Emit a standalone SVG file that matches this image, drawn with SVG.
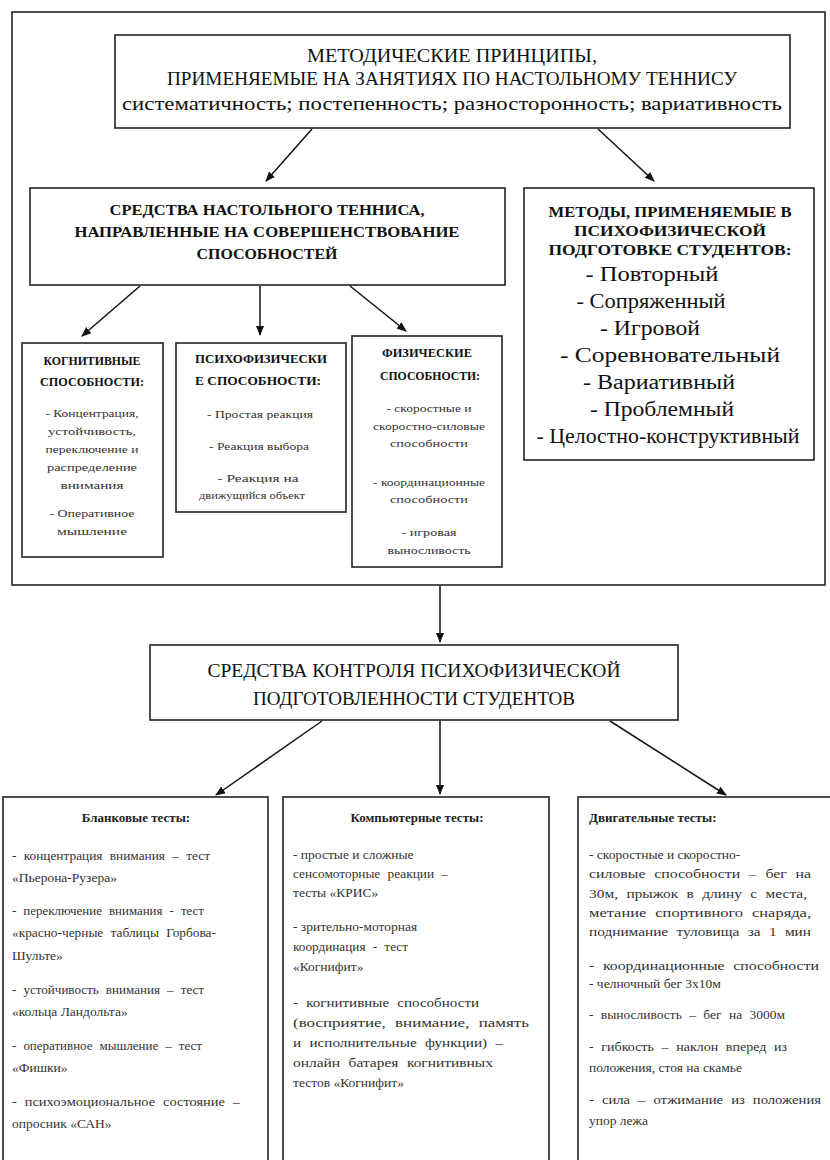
<svg xmlns="http://www.w3.org/2000/svg" width="830" height="1160" viewBox="0 0 830 1160">
<defs>
<marker id="ah" markerWidth="10" markerHeight="10" refX="9" refY="5" orient="auto" markerUnits="userSpaceOnUse">
<path d="M0,1 L10,5 L0,9 Z" fill="#111"/>
</marker>
<style>
.box{fill:#fff;stroke:#222;stroke-width:1.6}
text{font-family:'Liberation Serif','DejaVu Serif','Times New Roman',serif;fill:#111}
.c{text-anchor:middle}
.h1{font-size:18px}
.h2{font-size:15px;font-weight:bold}
.m{font-size:20px}
.st{font-size:12px;font-weight:bold}
.s{font-size:11px;fill:#333}
.b{font-size:13.5px;fill:#333}
.w{word-spacing:4px}
.bt{font-size:13px;font-weight:bold;fill:#222}
.con{stroke:#111;stroke-width:1.5;fill:none;marker-end:url(#ah)}
</style>
</defs>
<rect width="830" height="1160" fill="#fff"/>

<g id="frame"><rect class="box" x="12" y="12" width="813" height="573"/></g>

<g id="principles">
<rect class="box" x="115" y="35" width="675" height="93"/>
<text class="c h1" x="452" y="62" textLength="290" lengthAdjust="spacingAndGlyphs">МЕТОДИЧЕСКИЕ ПРИНЦИПЫ,</text>
<text class="c h1" x="452" y="85" textLength="570" lengthAdjust="spacingAndGlyphs">ПРИМЕНЯЕМЫЕ НА ЗАНЯТИЯХ ПО НАСТОЛЬНОМУ ТЕННИСУ</text>
<text class="c h1" x="452" y="110" textLength="660" lengthAdjust="spacingAndGlyphs" style="font-size:19px">систематичность; постепенность; разносторонность; вариативность</text>
</g>

<g id="means">
<rect class="box" x="30" y="188" width="475" height="97"/>
<text class="c h2" x="267" y="215" textLength="315" lengthAdjust="spacingAndGlyphs">СРЕДСТВА НАСТОЛЬНОГО ТЕННИСА,</text>
<text class="c h2" x="267" y="237" textLength="385" lengthAdjust="spacingAndGlyphs">НАПРАВЛЕННЫЕ НА СОВЕРШЕНСТВОВАНИЕ</text>
<text class="c h2" x="267" y="259" textLength="141" lengthAdjust="spacingAndGlyphs">СПОСОБНОСТЕЙ</text>
</g>

<g id="methods">
<rect class="box" x="524" y="188" width="290" height="272"/>
<text class="c h2" x="670" y="217" textLength="243" lengthAdjust="spacingAndGlyphs">МЕТОДЫ, ПРИМЕНЯЕМЫЕ В</text>
<text class="c h2" x="670" y="236" textLength="192" lengthAdjust="spacingAndGlyphs">ПСИХОФИЗИЧЕСКОЙ</text>
<text class="c h2" x="670" y="255" textLength="243" lengthAdjust="spacingAndGlyphs">ПОДГОТОВКЕ СТУДЕНТОВ:</text>
<text class="c m" x="652" y="281" textLength="133" lengthAdjust="spacingAndGlyphs">- Повторный</text>
<text class="c m" x="651" y="308" textLength="149" lengthAdjust="spacingAndGlyphs">- Сопряженный</text>
<text class="c m" x="650" y="335" textLength="100" lengthAdjust="spacingAndGlyphs">- Игровой</text>
<text class="c m" x="670" y="362" textLength="220" lengthAdjust="spacingAndGlyphs">- Соревновательный</text>
<text class="c m" x="659" y="389" textLength="152" lengthAdjust="spacingAndGlyphs">- Вариативный</text>
<text class="c m" x="662" y="416" textLength="144" lengthAdjust="spacingAndGlyphs">- Проблемный</text>
<text class="c m" x="668" y="443" textLength="263" lengthAdjust="spacingAndGlyphs">- Целостно-конструктивный</text>
</g>

<g id="cognitive">
<rect class="box" x="22" y="343" width="141" height="214"/>
<text class="c st" x="92" y="365" textLength="97" lengthAdjust="spacingAndGlyphs">КОГНИТИВНЫЕ</text>
<text class="c st" x="92" y="386" textLength="104" lengthAdjust="spacingAndGlyphs">СПОСОБНОСТИ:</text>
<text class="c s" x="92" y="417" textLength="93" lengthAdjust="spacingAndGlyphs">- Концентрация,</text>
<text class="c s" x="92" y="435" textLength="88" lengthAdjust="spacingAndGlyphs">устойчивость,</text>
<text class="c s" x="92" y="453" textLength="93" lengthAdjust="spacingAndGlyphs">переключение и</text>
<text class="c s" x="92" y="471" textLength="90" lengthAdjust="spacingAndGlyphs">распределение</text>
<text class="c s" x="92" y="489" textLength="63" lengthAdjust="spacingAndGlyphs">внимания</text>
<text class="c s" x="92" y="517" textLength="85" lengthAdjust="spacingAndGlyphs">- Оперативное</text>
<text class="c s" x="92" y="535" textLength="70" lengthAdjust="spacingAndGlyphs">мышление</text>
</g>

<g id="psychophysical">
<rect class="box" x="176" y="343" width="170" height="169"/>
<text class="c st" x="261" y="363" textLength="132" lengthAdjust="spacingAndGlyphs">ПСИХОФИЗИЧЕСКИ</text>
<text class="c st" x="258" y="385" textLength="126" lengthAdjust="spacingAndGlyphs">Е СПОСОБНОСТИ:</text>
<text class="c s" x="260" y="418" textLength="106" lengthAdjust="spacingAndGlyphs">- Простая реакция</text>
<text class="c s" x="259" y="450" textLength="100" lengthAdjust="spacingAndGlyphs">- Реакция выбора</text>
<text class="c s" x="258" y="482" textLength="81" lengthAdjust="spacingAndGlyphs">- Реакция на</text>
<text class="c s" x="252" y="499" textLength="106" lengthAdjust="spacingAndGlyphs">движущийся объект</text>
</g>

<g id="physical">
<rect class="box" x="352" y="336" width="150" height="231"/>
<text class="c st" x="427" y="357" textLength="90" lengthAdjust="spacingAndGlyphs">ФИЗИЧЕСКИЕ</text>
<text class="c st" x="430" y="380" textLength="100" lengthAdjust="spacingAndGlyphs">СПОСОБНОСТИ:</text>
<text class="c s" x="429" y="412" textLength="85" lengthAdjust="spacingAndGlyphs">- скоростные и</text>
<text class="c s" x="429" y="430" textLength="112" lengthAdjust="spacingAndGlyphs">скоростно-силовые</text>
<text class="c s" x="429" y="447" textLength="78" lengthAdjust="spacingAndGlyphs">способности</text>
<text class="c s" x="429" y="486" textLength="112" lengthAdjust="spacingAndGlyphs">- координационные</text>
<text class="c s" x="429" y="503" textLength="78" lengthAdjust="spacingAndGlyphs">способности</text>
<text class="c s" x="429" y="536" textLength="55" lengthAdjust="spacingAndGlyphs">- игровая</text>
<text class="c s" x="429" y="554" textLength="83" lengthAdjust="spacingAndGlyphs">выносливость</text>
</g>

<g id="control">
<rect class="box" x="150" y="645" width="528" height="75"/>
<text class="c h1" x="414" y="677" textLength="413" lengthAdjust="spacingAndGlyphs">СРЕДСТВА КОНТРОЛЯ ПСИХОФИЗИЧЕСКОЙ</text>
<text class="c h1" x="414" y="705" textLength="322" lengthAdjust="spacingAndGlyphs">ПОДГОТОВЛЕННОСТИ СТУДЕНТОВ</text>
</g>

<g id="blank-tests">
<rect class="box" x="3" y="797" width="265" height="380"/>
<text class="c bt" x="136" y="822">Бланковые тесты:</text>
<text class="b w" x="12" y="860" textLength="198" lengthAdjust="spacingAndGlyphs">- концентрация  внимания – тест</text>
<text class="b" x="12" y="882">«Пьерона-Рузера»</text>
<text class="b w" x="12" y="915" textLength="192" lengthAdjust="spacingAndGlyphs">- переключение внимания - тест</text>
<text class="b w" x="12" y="937" textLength="204" lengthAdjust="spacingAndGlyphs">«красно-черные таблицы Горбова-</text>
<text class="b" x="12" y="960">Шульте»</text>
<text class="b w" x="12" y="994" textLength="192" lengthAdjust="spacingAndGlyphs">- устойчивость внимания – тест</text>
<text class="b" x="12" y="1016">«кольца Ландольта»</text>
<text class="b w" x="12" y="1050" textLength="190" lengthAdjust="spacingAndGlyphs">- оперативное мышление – тест</text>
<text class="b" x="12" y="1072">«Фишки»</text>
<text class="b w" x="12" y="1106" textLength="228" lengthAdjust="spacingAndGlyphs">- психоэмоциональное состояние –</text>
<text class="b" x="12" y="1128">опросник «САН»</text>
</g>

<g id="computer-tests">
<rect class="box" x="283" y="797" width="266" height="380"/>
<text class="c bt" x="417" y="822">Компьютерные тесты:</text>
<text class="b" x="293" y="859">- простые и сложные</text>
<text class="b w" x="293" y="878" textLength="155" lengthAdjust="spacingAndGlyphs">сенсомоторные реакции –</text>
<text class="b" x="293" y="897">тесты «КРИС»</text>
<text class="b" x="293" y="931">- зрительно-моторная</text>
<text class="b w" x="293" y="951" textLength="115" lengthAdjust="spacingAndGlyphs">координация - тест</text>
<text class="b" x="293" y="971">«Когнифит»</text>
<text class="b w" x="293" y="1007" textLength="186" lengthAdjust="spacingAndGlyphs">- когнитивные способности</text>
<text class="b w" x="293" y="1027" textLength="236" lengthAdjust="spacingAndGlyphs">(восприятие, внимание, память</text>
<text class="b w" x="293" y="1047" textLength="210" lengthAdjust="spacingAndGlyphs">и исполнительные функции) –</text>
<text class="b w" x="293" y="1067" textLength="200" lengthAdjust="spacingAndGlyphs">онлайн батарея когнитивных</text>
<text class="b" x="293" y="1087">тестов «Когнифит»</text>
</g>

<g id="motor-tests">
<rect class="box" x="578" y="797" width="260" height="380"/>
<text class="bt" x="589" y="822">Двигательные тесты:</text>
<text class="b" x="589" y="859">- скоростные и скоростно-</text>
<text class="b w" x="589" y="878" textLength="222" lengthAdjust="spacingAndGlyphs">силовые способности  – бег на</text>
<text class="b w" x="589" y="898" textLength="218" lengthAdjust="spacingAndGlyphs">30м, прыжок в длину с места,</text>
<text class="b w" x="589" y="917" textLength="222" lengthAdjust="spacingAndGlyphs">метание спортивного снаряда,</text>
<text class="b w" x="589" y="936" textLength="222" lengthAdjust="spacingAndGlyphs">поднимание туловища за 1 мин</text>
<text class="b w" x="589" y="970" textLength="230" lengthAdjust="spacingAndGlyphs">- координационные способности</text>
<text class="b" x="589" y="988">- челночный бег 3х10м</text>
<text class="b w" x="589" y="1019" textLength="196" lengthAdjust="spacingAndGlyphs">- выносливость  – бег на 3000м</text>
<text class="b w" x="589" y="1051" textLength="198" lengthAdjust="spacingAndGlyphs">- гибкость – наклон вперед из</text>
<text class="b" x="589" y="1072">положения, стоя на скамье</text>
<text class="b w" x="589" y="1104" textLength="232" lengthAdjust="spacingAndGlyphs">- сила – отжимание из положения</text>
<text class="b" x="589" y="1125">упор лежа</text>
</g>

<g id="connectors">
<line class="con" x1="312" y1="129" x2="266" y2="181"/>
<line class="con" x1="598" y1="129" x2="654" y2="181"/>
<line class="con" x1="140" y1="286" x2="82" y2="336"/>
<line class="con" x1="260" y1="286" x2="260" y2="335"/>
<line class="con" x1="350" y1="286" x2="406" y2="331"/>
<line class="con" x1="440" y1="586" x2="440" y2="642"/>
<line class="con" x1="322" y1="721" x2="216" y2="795"/>
<line class="con" x1="440" y1="721" x2="440" y2="794"/>
<line class="con" x1="610" y1="721" x2="726" y2="795"/>
</g>
</svg>
